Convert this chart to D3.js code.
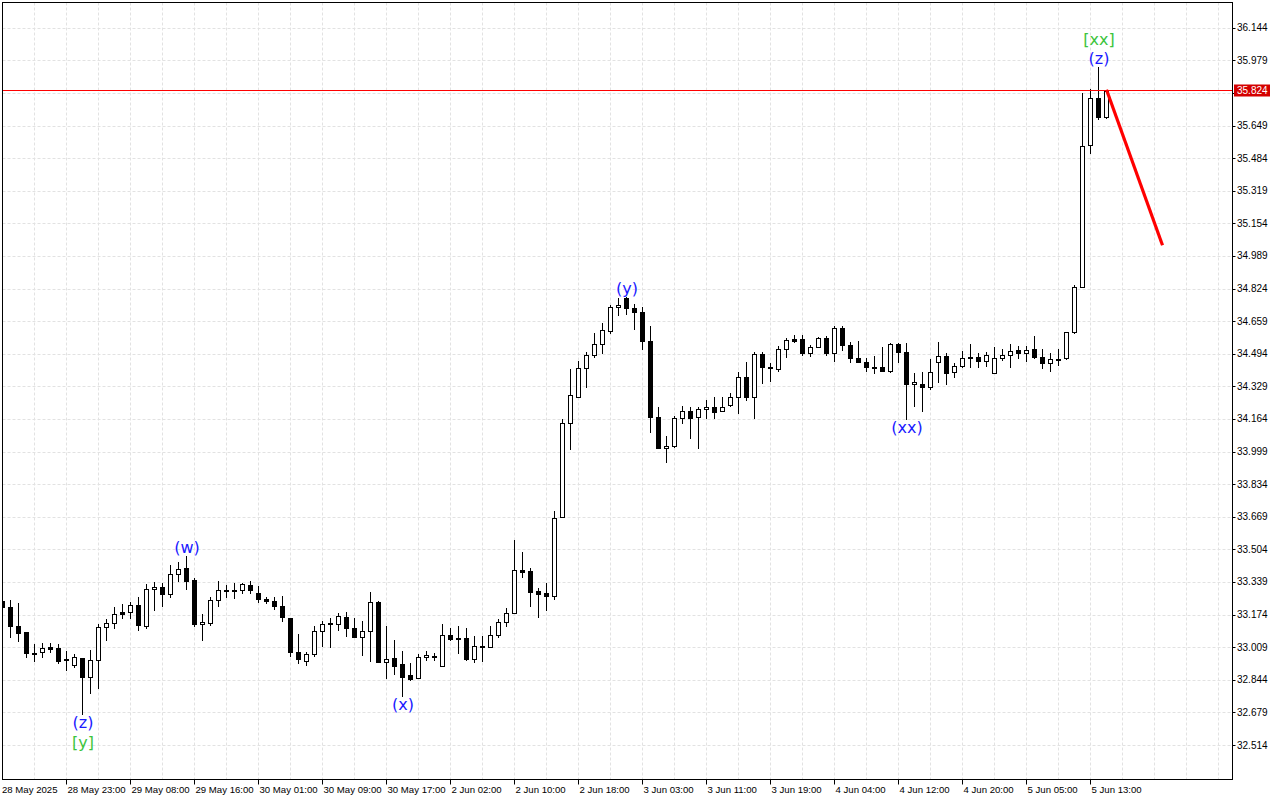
<!DOCTYPE html>
<html><head><meta charset="utf-8">
<script src="https://cdn.jsdelivr.net/npm/d3@7"></script>
<style>html,body{margin:0;padding:0;background:#fff;} svg{display:block;}</style>
</head><body>
<svg id="chart" width="1280" height="800"></svg>
<script>
// ---- data (hourly candles, 28 May 15:00 .. 5 Jun 15:00) ----
const openP = [
33.243,33.213,33.116,33.086,32.982,32.985,33.010,33.005,32.949,32.919,
32.955,32.858,32.944,33.111,33.132,33.187,33.187,33.223,33.116,33.304,
33.314,33.278,33.380,33.410,33.349,33.127,33.131,33.248,33.297,33.294,
33.299,33.324,33.283,33.253,33.243,33.218,33.157,32.985,32.940,32.975,
33.092,33.128,33.126,33.164,33.105,33.062,33.091,33.236,32.935,32.953,
32.922,32.868,32.851,32.957,32.964,32.915,33.072,33.055,33.055,32.951,
33.011,33.011,33.071,33.137,33.180,33.402,33.394,33.293,33.282,33.270,
33.666,34.142,34.277,34.420,34.489,34.541,34.609,34.729,34.775,34.725,
34.704,34.561,34.175,34.016,34.026,34.167,34.203,34.172,34.213,34.226,
34.203,34.235,34.277,34.378,34.274,34.493,34.425,34.417,34.517,34.568,
34.568,34.497,34.527,34.573,34.500,34.623,34.539,34.472,34.452,34.427,
34.426,34.409,34.544,34.505,34.341,34.341,34.327,34.453,34.482,34.403,
34.432,34.473,34.476,34.458,34.398,34.471,34.487,34.513,34.496,34.516,
34.476,34.449,34.469,34.472,34.603,34.833,35.550,35.790,35.693
];
const highP = [
33.248,33.248,33.233,33.086,33.025,33.030,33.030,33.025,32.990,32.975,
32.955,32.995,33.126,33.152,33.213,33.228,33.238,33.263,33.329,33.339,
33.334,33.425,33.440,33.471,33.359,33.177,33.265,33.344,33.324,33.334,
33.335,33.344,33.319,33.263,33.265,33.268,33.157,33.076,32.986,33.116,
33.142,33.157,33.184,33.189,33.157,33.142,33.287,33.244,33.116,33.046,
32.989,32.927,32.977,32.990,32.980,33.126,33.106,33.116,33.106,33.066,
33.066,33.116,33.151,33.205,33.553,33.489,33.408,33.307,33.332,33.698,
34.162,34.415,34.457,34.504,34.597,34.651,34.741,34.775,34.783,34.746,
34.730,34.635,34.223,34.078,34.179,34.231,34.223,34.226,34.260,34.277,
34.274,34.294,34.403,34.454,34.501,34.501,34.446,34.533,34.572,34.590,
34.590,34.539,34.579,34.584,34.635,34.632,34.555,34.559,34.472,34.483,
34.527,34.550,34.547,34.547,34.398,34.403,34.466,34.555,34.496,34.448,
34.508,34.542,34.498,34.504,34.527,34.516,34.542,34.533,34.533,34.584,
34.516,34.497,34.516,34.605,34.842,35.815,35.832,35.943,35.828
];
const lowP = [
33.197,33.061,33.041,32.960,32.939,32.960,32.985,32.929,32.894,32.909,
32.671,32.777,32.802,33.046,33.106,33.157,33.157,33.096,33.106,33.197,
33.218,33.263,33.344,33.304,33.116,33.046,33.121,33.218,33.263,33.258,
33.283,33.283,33.239,33.233,33.202,33.143,32.966,32.930,32.919,32.966,
33.015,33.011,33.096,33.066,33.062,32.970,32.940,32.935,32.854,32.872,
32.761,32.843,32.851,32.946,32.946,32.915,33.046,32.980,32.944,32.935,
32.939,33.011,33.062,33.117,33.180,33.365,33.218,33.164,33.197,33.251,
33.666,34.011,34.277,34.327,34.479,34.499,34.597,34.690,34.694,34.620,
34.518,34.100,34.016,33.948,34.021,34.142,34.069,34.017,34.167,34.170,
34.203,34.231,34.196,34.260,34.170,34.345,34.356,34.408,34.477,34.552,
34.488,34.485,34.527,34.488,34.459,34.513,34.452,34.452,34.405,34.397,
34.409,34.401,34.454,34.162,34.230,34.206,34.316,34.353,34.340,34.377,
34.428,34.428,34.428,34.433,34.395,34.462,34.428,34.472,34.459,34.472,
34.420,34.409,34.437,34.468,34.598,34.833,35.508,35.680,35.688
];
const closeP = [
33.213,33.116,33.081,32.980,32.978,33.005,33.000,32.939,32.944,32.960,
32.858,32.944,33.111,33.132,33.177,33.177,33.223,33.122,33.304,33.314,
33.278,33.380,33.405,33.344,33.127,33.137,33.248,33.299,33.295,33.296,
33.329,33.299,33.253,33.241,33.218,33.162,32.985,32.949,32.975,33.092,
33.126,33.130,33.167,33.105,33.062,33.091,33.236,32.935,32.948,32.915,
32.859,32.848,32.957,32.968,32.966,33.072,33.050,33.053,32.951,33.016,
33.013,33.072,33.137,33.180,33.402,33.390,33.290,33.280,33.270,33.661,
34.142,34.284,34.420,34.486,34.541,34.613,34.729,34.741,34.725,34.704,
34.561,34.175,34.016,34.026,34.167,34.203,34.170,34.213,34.226,34.201,
34.226,34.277,34.378,34.274,34.493,34.426,34.423,34.517,34.564,34.561,
34.497,34.527,34.573,34.500,34.623,34.539,34.472,34.452,34.426,34.425,
34.409,34.544,34.505,34.340,34.353,34.324,34.400,34.482,34.398,34.432,
34.471,34.475,34.458,34.487,34.471,34.487,34.509,34.496,34.513,34.476,
34.449,34.466,34.467,34.602,34.833,35.547,35.790,35.693,35.824
];
const timeLabels = ["28 May 2025","28 May 23:00","29 May 08:00","29 May 16:00","30 May 01:00",
  "30 May 09:00","30 May 17:00","2 Jun 02:00","2 Jun 10:00","2 Jun 18:00","3 Jun 03:00",
  "3 Jun 11:00","3 Jun 19:00","4 Jun 04:00","4 Jun 12:00","4 Jun 20:00","5 Jun 05:00","5 Jun 13:00"];
const timeLabelBar = [0,8,16,24,32,40,48,56,64,72,80,88,96,104,112,120,128,136];
const priceTicks = [36.144,35.979,35.814,35.649,35.484,35.319,35.154,34.989,34.824,34.659,34.494,
  34.329,34.164,33.999,33.834,33.669,33.504,33.339,33.174,33.009,32.844,32.679,32.514];
const hiddenTick = 35.814;
const lastPrice = 35.824;
const forecastBar = [138, 145];
const forecastPrice = [35.830, 35.043];
const waveText = ["(z)","[y]","(w)","(x)","(y)","(xx)","(z)","[xx]"];
const waveBar  = [10,10,23,50,78,113,137,137];
const waveSide = ["below","below","above","below","above","below","above","above"];
const waveRow  = [0,1,0,0,0,0,0,1];
const waveDegree = ["minor","major","minor","minor","minor","minor","minor","major"];

// ---- layout ----
const L = 2.5, T = 2.5, R = 1232.5, B = 779.5;
const svg = d3.select("#chart");
svg.append("rect").attr("width",1280).attr("height",800).attr("fill","#fff");

const x = d3.scaleLinear().domain([0, 138]).range([2.5, 1106.5]);
const y = d3.scaleLinear().domain([32.514, 36.144]).range([745, 27.7]);
const snap = v => Math.round(v) + 0.5;

svg.append("clipPath").attr("id","plot").append("rect")
  .attr("x", L+0.5).attr("y", T+0.5).attr("width", R-L-1).attr("height", B-T-1);

const grid = svg.append("g").attr("clip-path","url(#plot)")
  .attr("stroke","#e2e2e2").attr("stroke-width",1).attr("stroke-dasharray","3,2");
grid.selectAll("line.h").data(priceTicks).join("line").attr("class","h")
  .attr("x1", L).attr("x2", R).attr("y1", d => snap(y(d))).attr("y2", d => snap(y(d)));
const vBars = d3.range(4, 154, 4);
grid.selectAll("line.v").data(vBars).join("line").attr("class","v")
  .attr("y1", T).attr("y2", B).attr("x1", d => x(d)).attr("x2", d => x(d));

// candles
const bars = d3.range(openP.length);
const cg = svg.append("g").attr("clip-path","url(#plot)");
cg.selectAll("line.wick").data(bars).join("line").attr("class","wick")
  .attr("x1", i => x(i)).attr("x2", i => x(i))
  .attr("y1", i => Math.round(y(highP[i]))).attr("y2", i => Math.round(y(lowP[i])) + 1)
  .attr("stroke","#000").attr("stroke-width",1);
cg.selectAll("rect.body").data(bars).join("rect").attr("class","body")
  .each(function(i){
    const up = closeP[i] >= openP[i];
    const yt = Math.round(y(Math.max(openP[i], closeP[i])));
    const yb = Math.round(y(Math.min(openP[i], closeP[i])));
    const s = d3.select(this);
    if (up) {
      s.attr("x", x(i) - 2).attr("width", 4)
       .attr("y", yt + 0.5).attr("height", Math.max(yb - yt, 1))
       .attr("fill","#fff").attr("stroke","#000").attr("stroke-width",1);
    } else {
      s.attr("x", x(i) - 2.5).attr("width", 5)
       .attr("y", yt).attr("height", Math.max(yb - yt + 1, 2))
       .attr("fill","#000");
    }
  });

// last price line
const ly = Math.floor(y(lastPrice)) + 0.5;
svg.append("line").attr("x1", L).attr("x2", R).attr("y1", ly).attr("y2", ly)
  .attr("stroke","#ff0000").attr("stroke-width",1);

// forecast line
svg.append("path").attr("clip-path","url(#plot)")
  .attr("d", d3.line().x(d => x(d[0])).y(d => y(d[1]))(forecastBar.map((b,k)=>[b, forecastPrice[k]])))
  .attr("stroke","#ff0000").attr("stroke-width",3.2).attr("fill","none");

// wave labels
svg.append("g").selectAll("text").data(waveText.map((t,k)=>k)).join("text")
  .attr("x", k => x(waveBar[k]) + 0.5)
  .attr("y", k => waveSide[k] === "above"
      ? y(highP[waveBar[k]]) - 8.5 - waveRow[k]*19.5
      : y(lowP[waveBar[k]]) + 8.5 + waveRow[k]*20)
  .attr("text-anchor","middle").attr("dominant-baseline","central")
  .attr("font-family","DejaVu Sans, sans-serif").attr("font-size",16)
  .attr("fill", k => waveDegree[k] === "major" ? "#3cc43c" : "#1a1aff")
  .text(k => waveText[k]);

// frame
svg.append("rect").attr("x", L).attr("y", T).attr("width", R-L).attr("height", B-T)
  .attr("fill","none").attr("stroke","#000").attr("stroke-width",1);

// price axis
const pa = svg.append("g").attr("font-family","Liberation Sans, Arial, sans-serif").attr("font-size",10);
pa.selectAll("line").data(priceTicks).join("line")
  .attr("x1", R).attr("x2", R+3).attr("y1", d => snap(y(d))).attr("y2", d => snap(y(d)))
  .attr("stroke","#000");
pa.selectAll("text").data(priceTicks.filter(d => d !== hiddenTick)).join("text")
  .attr("x", R+4.5).attr("y", d => y(d)).attr("dominant-baseline","central")
  .attr("fill","#000").text(d => d.toFixed(3));
pa.append("rect").attr("x", R+1.5).attr("y", ly-6).attr("width", 36).attr("height", 12).attr("fill","#d40000");
pa.append("text").attr("x", R+4.5).attr("y", ly).attr("dominant-baseline","central")
  .attr("fill","#fff").text(lastPrice.toFixed(3));

// time axis
const ta = svg.append("g").attr("font-family","Liberation Sans, Arial, sans-serif").attr("font-size",9.6);
ta.selectAll("line").data(timeLabelBar.filter(b => b > 0)).join("line")
  .attr("x1", b => x(b)).attr("x2", b => x(b)).attr("y1", B).attr("y2", B+5)
  .attr("stroke","#000");
ta.selectAll("text").data(timeLabelBar.map((b,k)=>k)).join("text")
  .attr("x", k => timeLabelBar[k] === 0 ? 2 : x(timeLabelBar[k]) + 1)
  .attr("y", 792.5).attr("fill","#000").text(k => timeLabels[k]);
</script>
</body></html>
